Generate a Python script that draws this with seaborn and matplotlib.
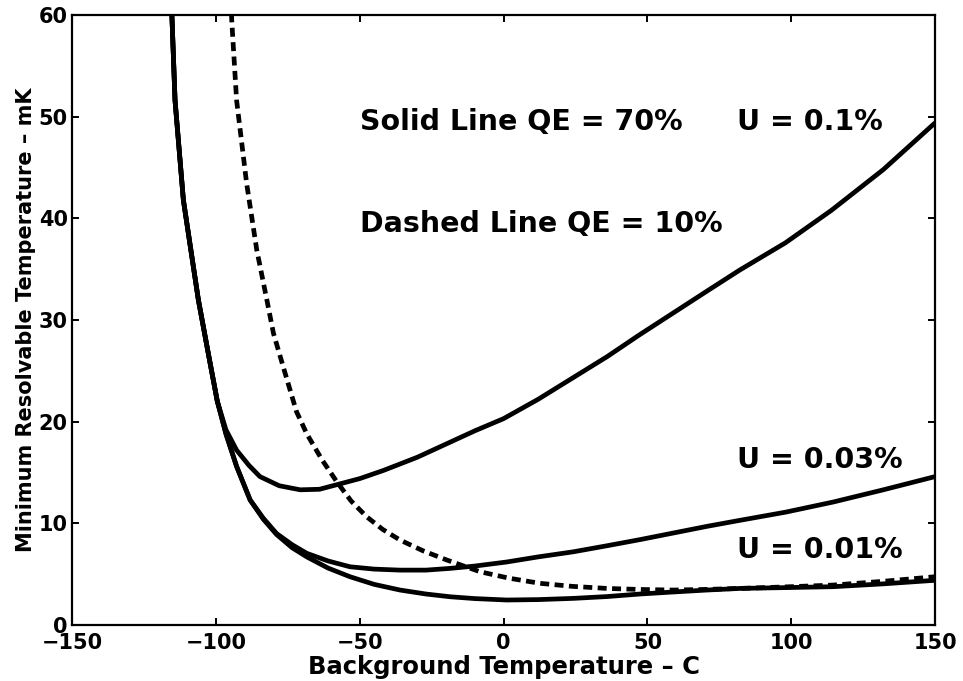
import matplotlib
matplotlib.use("Agg")
import matplotlib.pyplot as plt
import numpy as np
import pandas as pd
import seaborn as sns

# Background temperature (C) and minimum resolvable temperature (mK)
u010_x = [-116.0, -115.3, -114.2, -111.3, -108.5, -106.1, -102.5, -99.5, -96.5,
          -92.8, -88.5, -84.7, -78.0, -70.7, -64.0, -58.0, -50.0, -41.8, -30.0,
          -20.0, -10.0, 0.0, 12.0, 24.0, 36.0, 47.0, 59.0, 71.0, 82.0, 98.0,
          114.0, 132.0, 150.0]
u010_y = [63.0, 60.0, 51.6, 41.8, 36.5, 32.0, 26.5, 22.0, 19.2,
          17.2, 15.7, 14.6, 13.7, 13.3, 13.35, 13.8, 14.4, 15.2, 16.5,
          17.8, 19.1, 20.3, 22.2, 24.3, 26.4, 28.5, 30.7, 32.9, 34.9, 37.6,
          40.8, 44.8, 49.4]

u003_x = [-116.0, -115.3, -114.2, -111.3, -106.1, -102.5, -99.5, -96.5, -92.8,
          -88.1, -83.5, -78.9, -73.5, -68.4, -61.0, -53.4, -45.0, -36.0, -27.0,
          -18.6, -10.0, 1.1, 12.0, 24.2, 36.0, 47.4, 59.0, 70.6, 82.2, 98.0,
          114.6, 132.0, 150.0]
u003_y = [63.0, 60.0, 51.6, 41.8, 32.0, 26.5, 22.0, 18.8, 15.6,
          12.3, 10.5, 9.0, 7.9, 7.05, 6.3, 5.73, 5.5, 5.4, 5.4,
          5.57, 5.8, 6.2, 6.7, 7.2, 7.8, 8.4, 9.05, 9.7, 10.3, 11.1,
          12.1, 13.3, 14.6]

u001_x = [-116.0, -115.3, -114.2, -111.3, -106.1, -102.5, -99.5, -96.5, -92.8,
          -88.1, -83.5, -78.9, -73.5, -68.4, -61.0, -53.4, -45.0, -36.0, -27.0,
          -18.6, -10.0, 1.1, 12.0, 24.2, 36.0, 47.4, 59.0, 70.6, 82.2, 98.0,
          114.6, 132.0, 150.0]
u001_y = [63.0, 60.0, 51.6, 41.8, 32.0, 26.5, 22.0, 18.8, 15.6,
          12.3, 10.4, 8.9, 7.6, 6.7, 5.6, 4.75, 4.0, 3.44, 3.05,
          2.78, 2.6, 2.46, 2.5, 2.62, 2.8, 3.05, 3.25, 3.44, 3.6, 3.68,
          3.77, 4.05, 4.4]

qe10_x = [-94.8, -94.5, -92.8, -89.3, -85.8, -82.3, -80.0, -76.6, -72.0, -68.4,
          -63.0, -58.0, -53.0, -47.6, -42.0, -36.0, -28.0, -19.8, -8.2, 2.0,
          12.7, 24.0, 35.9, 47.0, 59.0, 70.0, 82.2, 98.0, 114.6, 132.0, 150.0]
qe10_y = [62.0, 59.5, 51.6, 43.4, 36.9, 32.0, 28.7, 25.4, 21.0, 18.8,
          16.2, 14.1, 12.2, 10.65, 9.4, 8.36, 7.3, 6.4, 5.24, 4.6,
          4.1, 3.8, 3.6, 3.5, 3.44, 3.5, 3.6, 3.75, 3.93, 4.3, 4.75]

x_ticks = [-150, -100, -50, 0, 50, 100, 150]
y_ticks = [0, 10, 20, 30, 40, 50, 60]

notes = ["Solid Line QE = 70%", "Dashed Line QE = 10%",
         "U = 0.1%", "U = 0.03%", "U = 0.01%"]
note_x = [-50, -50, 81, 81, 81]
note_y = [49.5, 39.4, 49.5, 16.2, 7.4]

sns.set_style("ticks")
plt.rcParams["font.family"] = ["DejaVu Sans"]
plt.rcParams["font.weight"] = "bold"
plt.rcParams["axes.unicode_minus"] = True
plt.rcParams["text.color"] = "black"
plt.rcParams["axes.labelcolor"] = "black"

fig = plt.figure(figsize=(9.63, 6.81), dpi=100)
ax = fig.add_axes([0.0748, 0.0822, 0.8963, 0.8958])

lw = 3.4
for xs, ys in [(u010_x, u010_y), (u003_x, u003_y), (u001_x, u001_y)]:
    df = pd.DataFrame({"T": xs, "MRT": ys})
    sns.lineplot(data=df, x="T", y="MRT", color="black", linewidth=lw,
                 ax=ax, solid_capstyle="butt", solid_joinstyle="round")

df_d = pd.DataFrame({"T": qe10_x, "MRT": qe10_y})
sns.lineplot(data=df_d, x="T", y="MRT", color="black", linewidth=lw,
             linestyle=(0, (1.9, 1.15)), dash_capstyle="butt", ax=ax)

ax.set_xlim(-150, 150)
ax.set_ylim(0, 60)
ax.set_xticks(x_ticks)
ax.set_yticks(y_ticks)
ax.set_xticklabels([f"{t}".replace("-", "\u2212") for t in x_ticks])
ax.set_yticklabels([str(t) for t in y_ticks])

for side in ["left", "right", "top", "bottom"]:
    ax.spines[side].set_visible(True)
    ax.spines[side].set_linewidth(1.6)
    ax.spines[side].set_color("black")

ax.tick_params(axis="both", which="both", direction="in", length=5, width=1.4,
               top=True, right=True, labelsize=15, colors="black")
ax.tick_params(axis="x", pad=6)
ax.tick_params(axis="y", pad=3)
for lab in ax.get_xticklabels() + ax.get_yticklabels():
    lab.set_fontweight("bold")

ax.set_xlabel("Background Temperature \u2013 C", fontsize=17.5, fontweight="bold",
              labelpad=1, color="black")
ax.set_ylabel("Minimum Resolvable Temperature \u2013 mK", fontsize=15,
              fontweight="bold", labelpad=2, color="black")

for txt, tx, ty in zip(notes, note_x, note_y):
    ax.text(tx, ty, txt, fontsize=20.5, fontweight="bold", ha="left",
            va="center", color="black")

fig.savefig("out.png", dpi=100, facecolor="white")
